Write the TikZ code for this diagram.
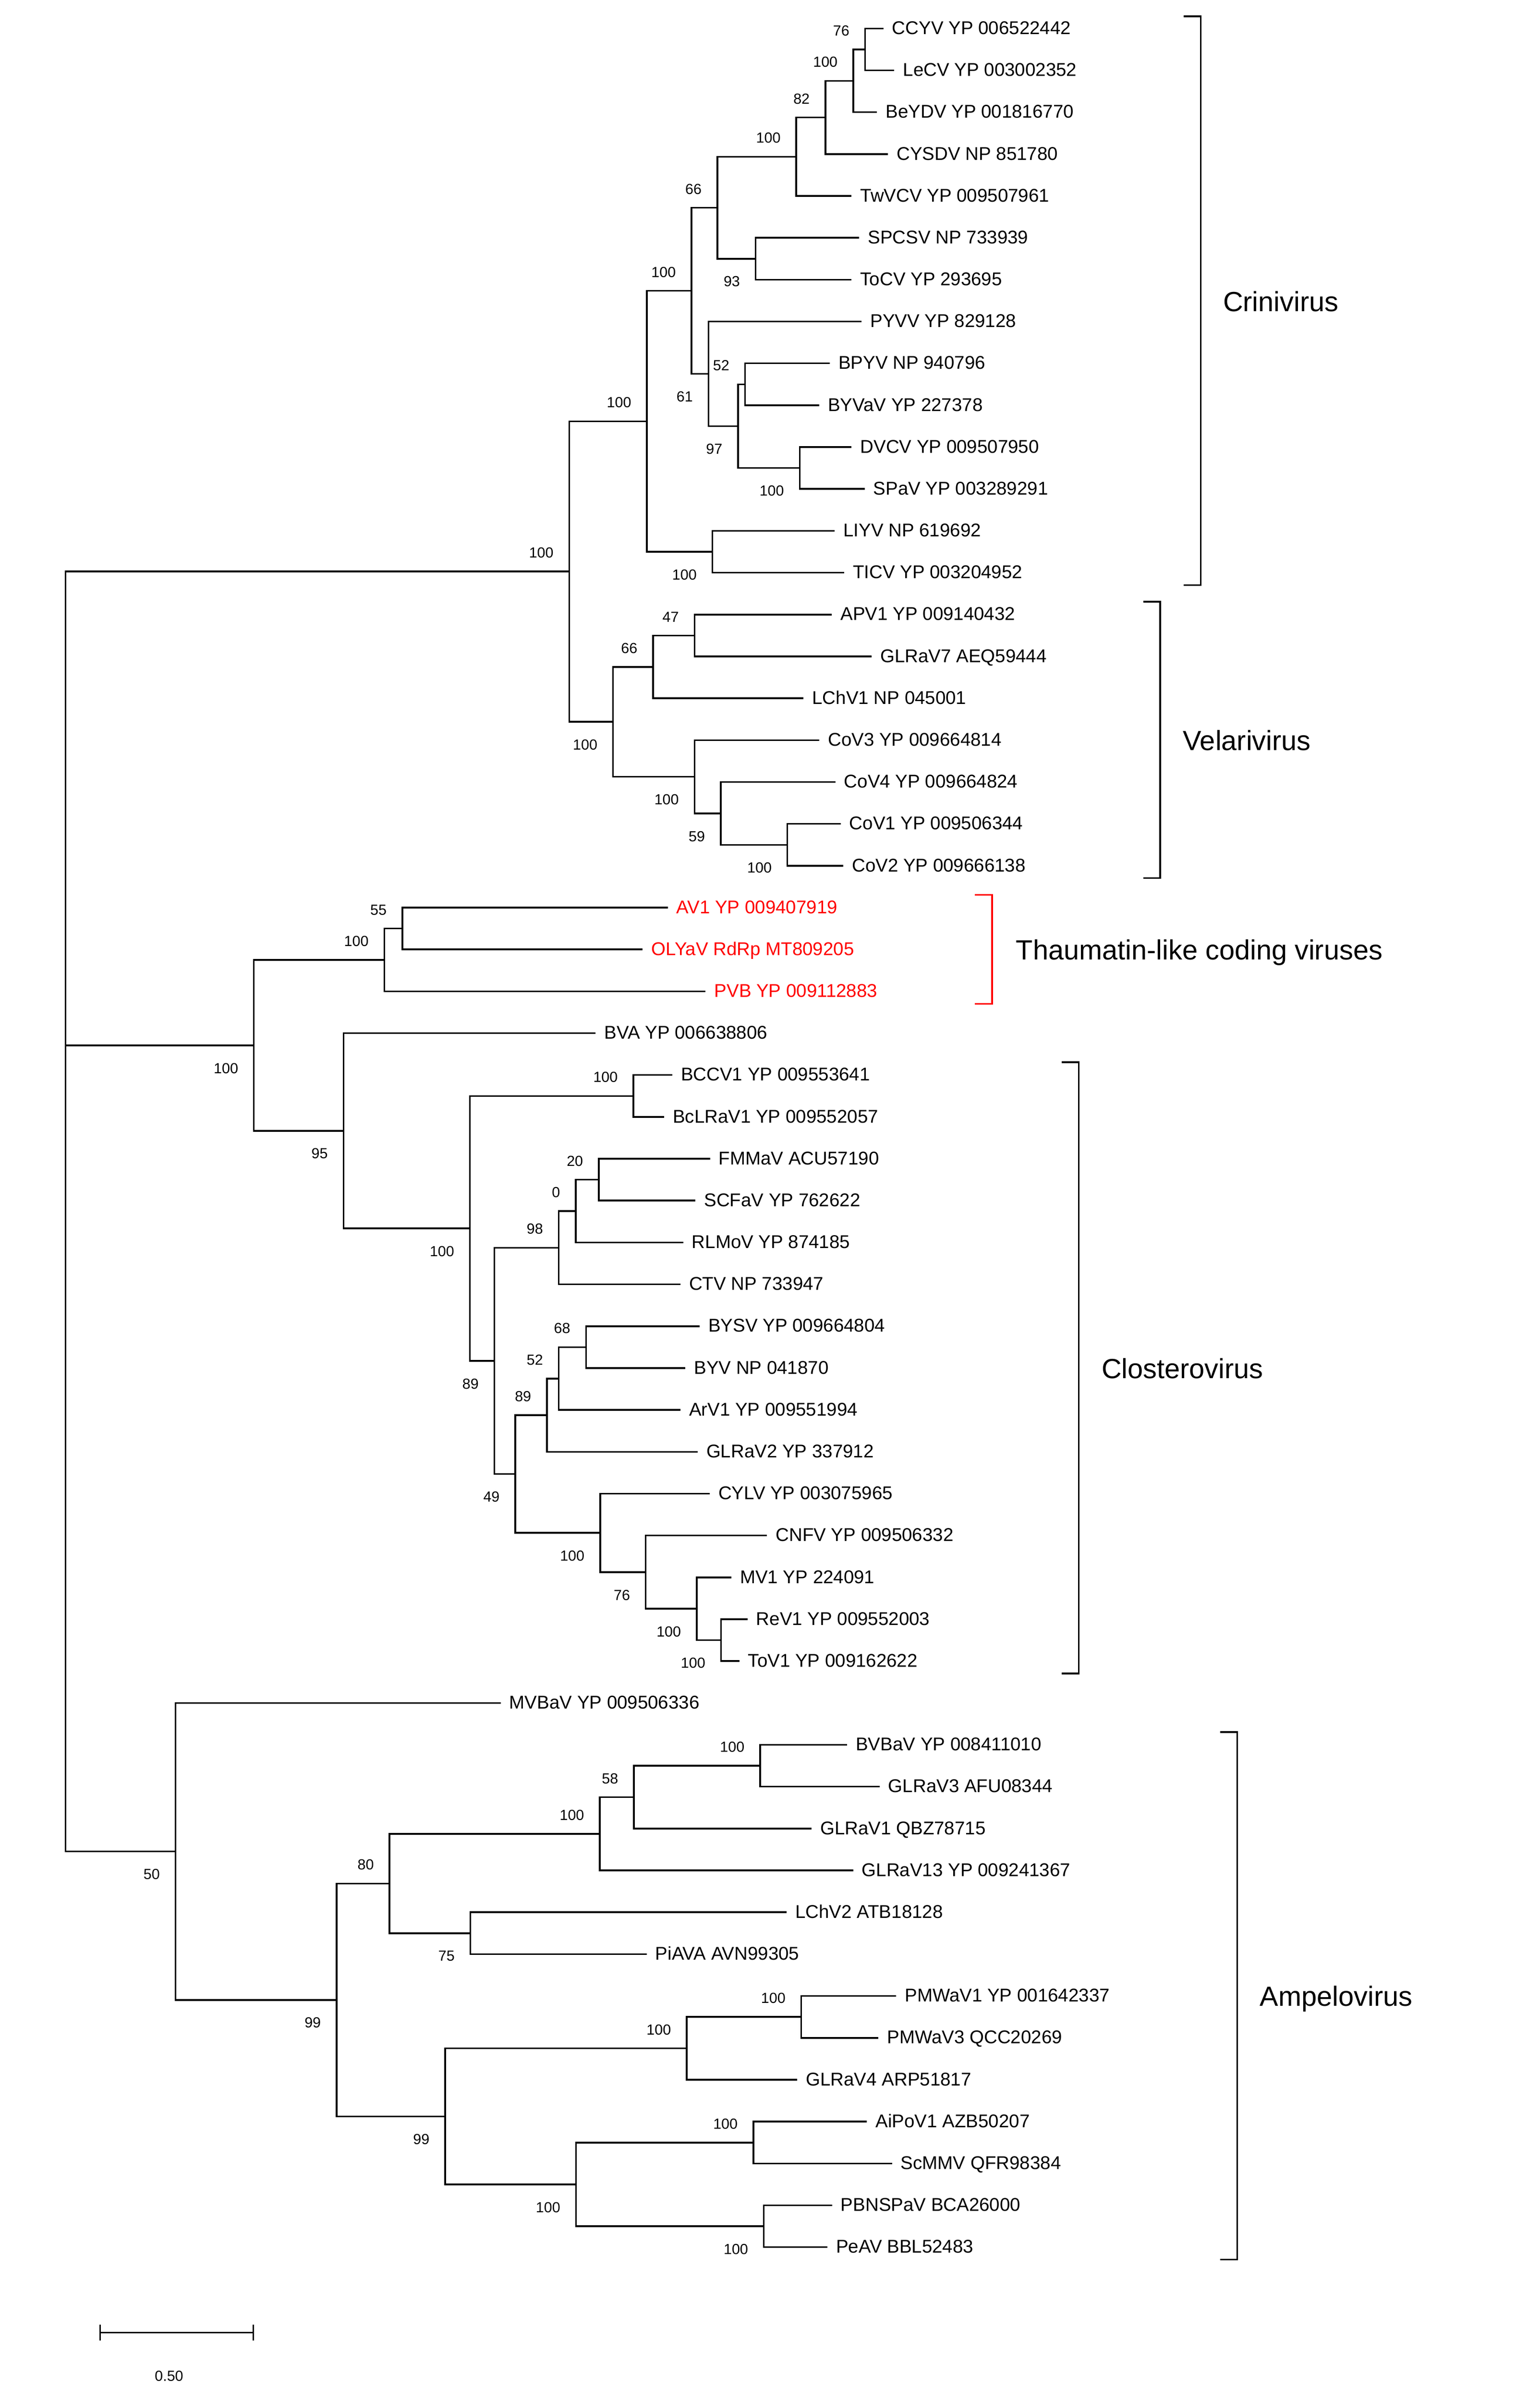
\documentclass[tikz,border=0pt]{standalone}
\usepackage{fontspec}
\setmainfont{Liberation Sans}
\begin{document}
\begin{tikzpicture}[x=1pt,y=-1pt,
  branch/.style={line width=1.1pt, line join=miter},
  bracketline/.style={line width=1.1pt, line join=miter},
  leaflab/.style={font=\fontsize{12}{14}\selectfont, inner sep=0pt, anchor=base west, xshift=5.5pt, yshift=-3.8pt},
  bsu/.style={font=\fontsize{9.5}{11}\selectfont, inner sep=0pt, anchor=south east, xshift=-10pt, yshift=8.6pt},
  bsl/.style={font=\fontsize{9.5}{11}\selectfont, inner sep=0pt, anchor=north east, xshift=-10pt, yshift=-11.3pt},
  grouplab/.style={font=\fontsize{18}{21}\selectfont, inner sep=0pt, anchor=base west, yshift=-6.8pt}]
\useasboundingbox (0,0) rectangle (1000,1559.5);
\newcommand{\mkleaf}[5][black]{\coordinate (#2) at (#3,#4); \node[leaflab,text=#1] (#2-txt) at (#2) {#5};}
\newcommand{\bsup}[2]{\node[bsu] (#1-bs) at (#1) {#2};}
\newcommand{\bslo}[2]{\node[bsl] (#1-bs) at (#1) {#2};}
\newcommand{\join}[3]{\draw[branch] (#2) -| (#1) |- (#3);}
% ---------------- leaves ----------------
\mkleaf{CCYV}{573.8}{18.5}{CCYV YP 006522442}
\mkleaf{LeCV}{580.9}{45.69}{LeCV YP 003002352}
\mkleaf{BeYDV}{569.6}{72.88}{BeYDV YP 001816770}
\mkleaf{CYSDV}{576.7}{100.07}{CYSDV NP 851780}
\mkleaf{TwVCV}{553.1}{127.26}{TwVCV YP 009507961}
\mkleaf{SPCSV}{558.1}{154.45}{SPCSV NP 733939}
\mkleaf{ToCV}{553.1}{181.64}{ToCV YP 293695}
\mkleaf{PYVV}{559.6}{208.83}{PYVV YP 829128}
\mkleaf{BPYV}{538.9}{236.02}{BPYV NP 940796}
\mkleaf{BYVaV}{532.1}{263.21}{BYVaV YP 227378}
\mkleaf{DVCV}{553.1}{290.4}{DVCV YP 009507950}
\mkleaf{SPaV}{561.6}{317.59}{SPaV YP 003289291}
\mkleaf{LIYV}{542.1}{344.78}{LIYV NP 619692}
\mkleaf{TICV}{548.3}{371.97}{TICV YP 003204952}
\mkleaf{APV1}{540.3}{399.16}{APV1 YP 009140432}
\mkleaf{GLRaV7}{566.1}{426.35}{GLRaV7 AEQ59444}
\mkleaf{LChV1}{521.9}{453.54}{LChV1 NP 045001}
\mkleaf{CoV3}{532.1}{480.73}{CoV3 YP 009664814}
\mkleaf{CoV4}{542.6}{507.92}{CoV4 YP 009664824}
\mkleaf{CoV1}{546.0}{535.11}{CoV1 YP 009506344}
\mkleaf{CoV2}{547.7}{562.3}{CoV2 YP 009666138}
\mkleaf[red]{AV1}{433.7}{589.49}{AV1 YP 009407919}
\mkleaf[red]{OLYaV}{417.4}{616.68}{OLYaV RdRp MT809205}
\mkleaf[red]{PVB}{458.3}{643.87}{PVB YP 009112883}
\mkleaf{BVA}{386.9}{671.06}{BVA YP 006638806}
\mkleaf{BCCV1}{436.6}{698.25}{BCCV1 YP 009553641}
\mkleaf{BcLRaV1}{431.3}{725.44}{BcLRaV1 YP 009552057}
\mkleaf{FMMaV}{461.2}{752.63}{FMMaV ACU57190}
\mkleaf{SCFaV}{451.7}{779.82}{SCFaV YP 762622}
\mkleaf{RLMoV}{443.7}{807.01}{RLMoV YP 874185}
\mkleaf{CTV}{441.9}{834.2}{CTV NP 733947}
\mkleaf{BYSV}{454.4}{861.39}{BYSV YP 009664804}
\mkleaf{BYV}{445.1}{888.58}{BYV NP 041870}
\mkleaf{ArV1}{441.9}{915.77}{ArV1 YP 009551994}
\mkleaf{GLRaV2}{453.1}{942.96}{GLRaV2 YP 337912}
\mkleaf{CYLV}{460.9}{970.15}{CYLV YP 003075965}
\mkleaf{CNFV}{498.2}{997.34}{CNFV YP 009506332}
\mkleaf{MV1}{475.0}{1024.53}{MV1 YP 224091}
\mkleaf{ReV1}{485.5}{1051.72}{ReV1 YP 009552003}
\mkleaf{ToV1}{480.2}{1078.91}{ToV1 YP 009162622}
\mkleaf{MVBaV}{325.2}{1106.1}{MVBaV YP 009506336}
\mkleaf{BVBaV}{550.2}{1133.29}{BVBaV YP 008411010}
\mkleaf{GLRaV3}{571.3}{1160.48}{GLRaV3 AFU08344}
\mkleaf{GLRaV1}{527.1}{1187.67}{GLRaV1 QBZ78715}
\mkleaf{GLRaV13}{554.1}{1214.86}{GLRaV13 YP 009241367}
\mkleaf{LChV2}{510.9}{1242.05}{LChV2 ATB18128}
\mkleaf{PiAVA}{420.0}{1269.24}{PiAVA AVN99305}
\mkleaf{PMWaV1}{582.1}{1296.43}{PMWaV1 YP 001642337}
\mkleaf{PMWaV3}{570.6}{1323.62}{PMWaV3 QCC20269}
\mkleaf{GLRaV4}{517.8}{1350.81}{GLRaV4 ARP51817}
\mkleaf{AiPoV1}{563.1}{1378.0}{AiPoV1 AZB50207}
\mkleaf{ScMMV}{579.4}{1405.19}{ScMMV QFR98384}
\mkleaf{PBNSPaV}{540.4}{1432.38}{PBNSPaV BCA26000}
\mkleaf{PeAV}{537.4}{1459.57}{PeAV BBL52483}
% ---------------- internal nodes ----------------
\coordinate (n1) at (561.9,32.10);
\coordinate (n2) at (554.2,52.49);
\coordinate (n3) at (536.1,76.28);
\coordinate (n4) at (517.2,101.77);
\coordinate (n5) at (490.8,168.05);
\coordinate (n6) at (465.9,134.91);
\coordinate (n7) at (483.9,249.62);
\coordinate (n8) at (519.4,304.0);
\coordinate (n9) at (479.4,276.81);
\coordinate (n10) at (460.2,242.82);
\coordinate (n11) at (449.1,188.87);
\coordinate (n12) at (462.7,358.38);
\coordinate (n13) at (420.2,273.62);
\coordinate (n14) at (451.1,412.76);
\coordinate (n15) at (424.2,433.15);
\coordinate (n16) at (511.4,548.71);
\coordinate (n17) at (468.1,528.32);
\coordinate (n17x) at (451.1,504.52);
\coordinate (n18) at (398.2,468.84);
\coordinate (n19) at (369.7,371.23);
\coordinate (t1) at (261.3,603.09);
\coordinate (t2) at (249.6,623.48);
\coordinate (c1) at (411.4,711.85);
\coordinate (c2) at (388.9,766.23);
\coordinate (c3) at (374.0,786.62);
\coordinate (c4) at (362.9,810.41);
\coordinate (c5) at (380.6,874.99);
\coordinate (c6) at (362.9,895.38);
\coordinate (c7) at (355.2,919.17);
\coordinate (d1) at (468.3,1065.32);
\coordinate (d2) at (452.5,1044.93);
\coordinate (d3) at (419.4,1021.14);
\coordinate (d4) at (389.8,995.65);
\coordinate (c8) at (334.7,957.41);
\coordinate (c9) at (321.1,883.91);
\coordinate (c10) at (305.2,797.88);
\coordinate (B) at (223.1,734.47);
\coordinate (A) at (164.9,678.98);
\coordinate (a1) at (493.7,1146.89);
\coordinate (a2) at (411.7,1167.28);
\coordinate (a3) at (389.6,1191.07);
\coordinate (a4) at (305.5,1255.65);
\coordinate (a5) at (253.0,1223.36);
\coordinate (a6) at (520.4,1310.03);
\coordinate (a7) at (446.0,1330.42);
\coordinate (a8) at (489.3,1391.6);
\coordinate (e1) at (496.1,1445.98);
\coordinate (e2) at (374.1,1418.79);
\coordinate (e3) at (289.1,1374.61);
\coordinate (a10) at (218.6,1298.99);
\coordinate (M) at (114.0,1202.55);
\coordinate (root) at (42.5,678.98);
% ---------------- branches ----------------
\join{n1}{CCYV}{LeCV}
\join{n2}{n1}{BeYDV}
\join{n3}{n2}{CYSDV}
\join{n4}{n3}{TwVCV}
\join{n5}{SPCSV}{ToCV}
\join{n6}{n4}{n5}
\join{n7}{BPYV}{BYVaV}
\join{n8}{DVCV}{SPaV}
\join{n9}{n7}{n8}
\join{n10}{PYVV}{n9}
\join{n11}{n6}{n10}
\join{n12}{LIYV}{TICV}
\join{n13}{n11}{n12}
\join{n14}{APV1}{GLRaV7}
\join{n15}{n14}{LChV1}
\join{n16}{CoV1}{CoV2}
\join{n17}{CoV4}{n16}
\join{n17x}{CoV3}{n17}
\join{n18}{n15}{n17x}
\join{n19}{n13}{n18}
\join{t1}{AV1}{OLYaV}
\join{t2}{t1}{PVB}
\join{c1}{BCCV1}{BcLRaV1}
\join{c2}{FMMaV}{SCFaV}
\join{c3}{c2}{RLMoV}
\join{c4}{c3}{CTV}
\join{c5}{BYSV}{BYV}
\join{c6}{c5}{ArV1}
\join{c7}{c6}{GLRaV2}
\join{d1}{ReV1}{ToV1}
\join{d2}{MV1}{d1}
\join{d3}{CNFV}{d2}
\join{d4}{CYLV}{d3}
\join{c8}{c7}{d4}
\join{c9}{c4}{c8}
\join{c10}{c1}{c9}
\join{B}{BVA}{c10}
\join{A}{t2}{B}
\join{a1}{BVBaV}{GLRaV3}
\join{a2}{a1}{GLRaV1}
\join{a3}{a2}{GLRaV13}
\join{a4}{LChV2}{PiAVA}
\join{a5}{a3}{a4}
\join{a6}{PMWaV1}{PMWaV3}
\join{a7}{a6}{GLRaV4}
\join{a8}{AiPoV1}{ScMMV}
\join{e1}{PBNSPaV}{PeAV}
\join{e2}{a8}{e1}
\join{e3}{a7}{e2}
\join{a10}{a5}{e3}
\join{M}{MVBaV}{a10}
\join{root}{n19}{M}
\draw[branch] (root) -- (A);
% ---------------- bootstrap values ----------------
\bsup{n1}{76}
\bsup{n2}{100}
\bsup{n3}{82}
\bsup{n4}{100}
\bslo{n5}{93}
\bsup{n6}{66}
\bsup{n7}{52}
\bslo{n8}{100}
\bslo{n9}{97}
\bslo{n10}{61}
\bsup{n11}{100}
\bslo{n12}{100}
\bsup{n13}{100}
\bsup{n14}{47}
\bsup{n15}{66}
\bslo{n16}{100}
\bslo{n17}{59}
\bslo{n17x}{100}
\bslo{n18}{100}
\bsup{n19}{100}
\bsup{t1}{55}
\bsup{t2}{100}
\bslo{A}{100}
\bslo{B}{95}
\bsup{c1}{100}
\bsup{c2}{20}
\bsup{c3}{0}
\bsup{c4}{98}
\bsup{c5}{68}
\bsup{c6}{52}
\bsup{c7}{89}
\bslo{d1}{100}
\bslo{d2}{100}
\bslo{d3}{76}
\bslo{d4}{100}
\bslo{c8}{49}
\bslo{c9}{89}
\bslo{c10}{100}
\bsup{a1}{100}
\bsup{a2}{58}
\bsup{a3}{100}
\bslo{a4}{75}
\bsup{a5}{80}
\bsup{a6}{100}
\bsup{a7}{100}
\bsup{a8}{100}
\bslo{e1}{100}
\bslo{e2}{100}
\bslo{e3}{99}
\bslo{a10}{99}
\bslo{M}{50}
% ---------------- brackets ----------------
\coordinate (criT) at (768.9,10.6);  \coordinate (criB) at (768.9,380.1);
\draw[bracketline] (criT) -- ++(11,0) |- (criB);
\node[grouplab] (crilab) at (794.2,195.35) {Crinivirus};
\coordinate (velT) at (742.5,390.8);  \coordinate (velB) at (742.5,570.3);
\draw[bracketline] (velT) -- ++(11,0) |- (velB);
\node[grouplab] (vellab) at (768.2,480.55) {Velarivirus};
\coordinate (thaT) at (633.3,581.2);  \coordinate (thaB) at (633.3,652.0);
\draw[bracketline,red] (thaT) -- ++(11,0) |- (thaB);
\node[grouplab] (thalab) at (659.7,616.6) {Thaumatin-like coding viruses};
\coordinate (cloT) at (689.7,689.9);  \coordinate (cloB) at (689.7,1086.9);
\draw[bracketline] (cloT) -- ++(11,0) |- (cloB);
\node[grouplab] (clolab) at (715.3,888.4) {Closterovirus};
\coordinate (ampT) at (792.6,1125.0);  \coordinate (ampB) at (792.6,1467.6);
\draw[bracketline] (ampT) -- ++(11,0) |- (ampB);
\node[grouplab] (amplab) at (818.2,1296.3) {Ampelovirus};
% ---------------- scale bar ----------------
\coordinate (sbL) at (65.0,1515.0);
\coordinate (sbR) at (164.5,1515.0);
\draw[branch] (sbL) -- (sbR);
\draw[branch] ([yshift=5.2pt]sbL) -- ([yshift=-5.2pt]sbL);
\draw[branch] ([yshift=5.2pt]sbR) -- ([yshift=-5.2pt]sbR);
\node[font=\fontsize{9.5}{11}\selectfont, inner sep=0pt] (sblab) at (109.8,1543.3) {0.50};
\end{tikzpicture}
\end{document}
